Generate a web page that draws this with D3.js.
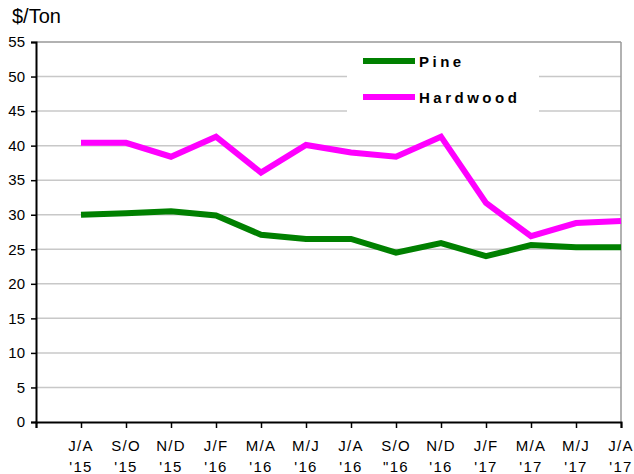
<!DOCTYPE html>
<html lang="en">
<head>
<meta charset="utf-8">
<title>Pine and Hardwood $/Ton</title>
<script src="https://cdn.jsdelivr.net/npm/d3@7"></script>
<style>
  body { margin: 0; background: #fff; }
  text { font-family: "Liberation Sans", Arial, sans-serif; fill: #000; }
</style>
</head>
<body>
<script>
// periods (two-line labels) and prices in $/Ton
var periods = ["J/A", "S/O", "N/D", "J/F", "M/A", "M/J", "J/A", "S/O", "N/D", "J/F", "M/A", "M/J", "J/A"];
var years = ["'15", "'15", "'15", "'16", "'16", "'16", "'16", "\"16", "'16", "'17", "'17", "'17", "'17"];
var pine = [30.0, 30.2, 30.5, 29.9, 27.1, 26.5, 26.5, 24.5, 25.9, 24.0, 25.6, 25.3, 25.3];
var hardwood = [40.4, 40.4, 38.4, 41.3, 36.1, 40.1, 39.0, 38.4, 41.3, 31.7, 26.9, 28.8, 29.1];
var yTicks = [0, 5, 10, 15, 20, 25, 30, 35, 40, 45, 50, 55];

var w = 634, h = 474;
// plot edges (note: "top" is taken by window.top)
var plotLeft = 36, plotRight = 621, plotTop = 42, plotBottom = 422;

var svg = d3.select("body").append("svg")
  .attr("width", w)
  .attr("height", h);

// category i sits at i+1; the y axis is at 0
var x = d3.scaleLinear().domain([0, periods.length]).range([plotLeft, plotRight]);
var y = d3.scaleLinear().domain([0, 55]).range([plotBottom, plotTop]);

// gridlines
svg.append("g").selectAll("line")
  .data(yTicks.filter(function(d) { return d > 0; }))
  .enter().append("line")
  .attr("x1", plotLeft).attr("x2", plotRight)
  .attr("y1", function(d) { return y(d); })
  .attr("y2", function(d) { return y(d); })
  .attr("stroke", function(d) { return d == 55 ? "#999" : "#c8c8c8"; })
  .attr("stroke-width", 1.5);

// right border
svg.append("line")
  .attr("x1", plotRight).attr("x2", plotRight)
  .attr("y1", plotTop).attr("y2", plotBottom)
  .attr("stroke", "#999").attr("stroke-width", 1.5);

// legend background hides the gridlines behind it
svg.append("rect")
  .attr("x", 347).attr("y", 46)
  .attr("width", 192).attr("height", 80)
  .attr("fill", "#fff");

// y axis
var yAxis = d3.axisLeft(y).tickValues(yTicks).tickSize(5).tickPadding(6);
var gy = svg.append("g")
  .attr("transform", "translate(" + plotLeft + ",0)")
  .call(yAxis);
gy.select(".domain").attr("stroke", "#000").attr("stroke-width", 2);
gy.selectAll(".tick line").attr("stroke", "#000").attr("stroke-width", 1.5);
gy.selectAll("text")
  .style("font-family", "Liberation Sans, Arial, sans-serif")
  .style("font-size", "15px")
  .attr("fill", "#000");

// x axis
var xAxis = d3.axisBottom(x).ticks(periods.length).tickSize(6).tickFormat("");
var gx = svg.append("g")
  .attr("transform", "translate(0," + plotBottom + ")")
  .call(xAxis);
gx.select(".domain").attr("stroke", "#000").attr("stroke-width", 2);
gx.selectAll(".tick line").attr("stroke", "#000").attr("stroke-width", 1.5);

var labels = svg.append("g").selectAll("text")
  .data(periods)
  .enter().append("text")
  .attr("text-anchor", "middle")
  .style("font-size", "15px")
  .style("letter-spacing", "1.3px")
  .attr("x", function(d, i) { return x(i + 1); });
labels.append("tspan")
  .attr("x", function(d, i) { return x(i + 1); })
  .attr("y", 451)
  .text(function(d) { return d; });
labels.append("tspan")
  .attr("x", function(d, i) { return x(i + 1); })
  .attr("y", 472)
  .text(function(d, i) { return years[i]; });

// unit label
svg.append("text")
  .attr("x", 12).attr("y", 23)
  .style("font-size", "20px")
  .text("$/Ton");

// lines
var line = d3.line()
  .x(function(d, i) { return x(i + 1); })
  .y(function(d) { return y(d); });

svg.append("path")
  .datum(pine)
  .attr("d", line)
  .attr("fill", "none")
  .attr("stroke", "#008000")
  .attr("stroke-width", 6);

svg.append("path")
  .datum(hardwood)
  .attr("d", line)
  .attr("fill", "none")
  .attr("stroke", "#ff00ff")
  .attr("stroke-width", 6);

// legend
var legend = [["Pine", "#008000", 61], ["Hardwood", "#ff00ff", 97]];
var lg = svg.append("g").selectAll("g")
  .data(legend)
  .enter().append("g");
lg.append("line")
  .attr("x1", 363).attr("x2", 415)
  .attr("y1", function(d) { return d[2]; })
  .attr("y2", function(d) { return d[2]; })
  .attr("stroke", function(d) { return d[1]; })
  .attr("stroke-width", 6);
lg.append("text")
  .attr("x", 419)
  .attr("y", function(d) { return d[2] + 6; })
  .style("font-size", "15px")
  .style("font-weight", "bold")
  .style("letter-spacing", "3.5px")
  .text(function(d) { return d[0]; });
</script>
</body>
</html>
